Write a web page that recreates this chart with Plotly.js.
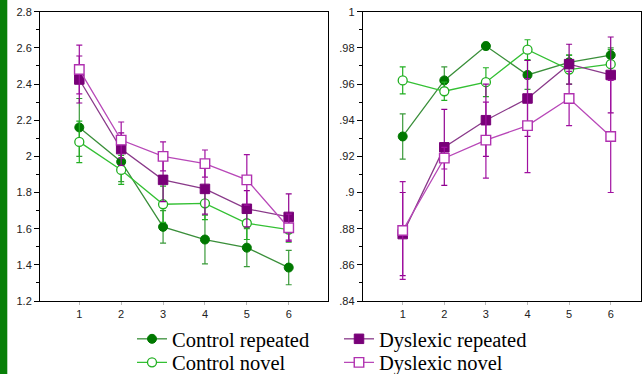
<!DOCTYPE html>
<html>
<head>
<meta charset="utf-8">
<script src="https://cdn.plot.ly/plotly-3.0.1.min.js"></script>
<style>html,body{margin:0;padding:0;background:#fff;}#chart{width:642px;height:374px;}</style>
</head>
<body>
<div id="chart"></div>
<script>
// ---- data ----
const sessions = [1, 2, 3, 4, 5, 6];
const seriesNames = ["Control repeated", "Control novel", "Dyslexic repeated", "Dyslexic novel"];

// left panel
const leftCtrlRep = [2.16, 1.97, 1.61, 1.54, 1.495, 1.385];
const leftCtrlRepErr = [0.16, 0.11, 0.09, 0.135, 0.105, 0.095];
const leftCtrlNov = [2.08, 1.925, 1.735, 1.74, 1.63, 1.595];
const leftCtrlNovErr = [0.115, 0.08, 0.10, 0.09, 0.09, 0.07];
const leftDysRep = [2.425, 2.04, 1.87, 1.82, 1.71, 1.665];
const leftDysRepErr = [0.13, 0.09, 0.12, 0.14, 0.10, 0.128];
const leftDysNov = [2.48, 2.09, 2.0, 1.96, 1.87, 1.605];
const leftDysNovErr = [0.135, 0.10, 0.08, 0.075, 0.14, 0.075];

// right panel
const rightCtrlRep = [0.931, 0.962, 0.981, 0.965, 0.972, 0.976];
const rightCtrlRepErr = [0.0125, 0.0075, 0.002, 0.008, 0.004, 0.004];
const rightCtrlNov = [0.962, 0.956, 0.961, 0.979, 0.968, 0.971];
const rightCtrlNovErr = [0.0075, 0.005, 0.008, 0.0055, 0.008, 0.008];
const rightDysRep = [0.877, 0.925, 0.940, 0.952, 0.971, 0.965];
const rightDysRepErr = [0.023, 0.021, 0.020, 0.021, 0.011, 0.021];
const rightDysNov = [0.879, 0.919, 0.929, 0.937, 0.952, 0.931];
const rightDysNovErr = [0.027, 0.006, 0.021, 0.026, 0.015, 0.031];

const leftTickVals = [1.2, 1.4, 1.6, 1.8, 2.0, 2.2, 2.4, 2.6, 2.8];
const leftTickText = ["1.2", "1.4", "1.6", "1.8", "2", "2.2", "2.4", "2.6", "2.8"];
const rightTickVals = [0.84, 0.86, 0.88, 0.90, 0.92, 0.94, 0.96, 0.98, 1.0];
const rightTickText = [".84", ".86", ".88", ".9", ".92", ".94", ".96", ".98", "1"];

// ---- styles ----
const styles = [
  {line: "#3a8f3a", marker: {symbol: "circle", color: "#007800", size: 9, line: {color: "#007800", width: 1}}, err: "#3a9a3a", legend: "legend"},
  {line: "#33c033", marker: {symbol: "circle", color: "#ffffff", size: 9, line: {color: "#22b022", width: 1.3}}, err: "#22b022", legend: "legend2"},
  {line: "#8a3a8a", marker: {symbol: "square", color: "#780078", size: 9.5, line: {color: "#780078", width: 1}}, err: "#900090", legend: "legend"},
  {line: "#b848b8", marker: {symbol: "square", color: "#ffffff", size: 9.5, line: {color: "#b030b0", width: 1.4}}, err: "#a010a0", legend: "legend2"}
];

function mk(i, y, err, xa, ya, show) {
  const s = styles[i];
  return {
    type: "scatter", mode: "lines+markers",
    x: sessions, y: y, xaxis: xa, yaxis: ya,
    name: seriesNames[i], legend: s.legend, showlegend: show,
    line: {color: s.line, width: 1.3},
    marker: s.marker,
    error_y: {type: "data", array: err, visible: true, color: s.err, thickness: 1.2, width: 3}
  };
}

const data = [
  mk(0, leftCtrlRep, leftCtrlRepErr, "x", "y", true),
  mk(1, leftCtrlNov, leftCtrlNovErr, "x", "y", true),
  mk(2, leftDysRep, leftDysRepErr, "x", "y", true),
  mk(3, leftDysNov, leftDysNovErr, "x", "y", true),
  mk(0, rightCtrlRep, rightCtrlRepErr, "x2", "y2", false),
  mk(1, rightCtrlNov, rightCtrlNovErr, "x2", "y2", false),
  mk(2, rightDysRep, rightDysRepErr, "x2", "y2", false),
  mk(3, rightDysNov, rightDysNovErr, "x2", "y2", false)
];

const W = 642, H = 374;
const tickFont = {family: "Liberation Sans, Arial, sans-serif", size: 11, color: "#222"};
const yDom = [1 - 301 / H, 1 - 11.7 / H];

function xAxis(dom, range, anchor) {
  return {
    domain: dom, range: range, anchor: anchor,
    tickvals: sessions, ticktext: sessions.map(String),
    ticks: "outside", ticklen: 3, tickcolor: "#bbbbbb",
    showline: true, linecolor: "#000", linewidth: 1, mirror: true,
    showgrid: false, zeroline: false, tickfont: tickFont, fixedrange: true
  };
}
function yAxis(range, vals, text, anchor) {
  return {
    domain: yDom, range: range, anchor: anchor,
    tickvals: vals, ticktext: text,
    ticks: "outside", ticklen: 5, tickcolor: "#000",
    minor: {ticks: "outside", ticklen: 3, tickcolor: "#000", dtick: (vals[1] - vals[0]) / 2, showgrid: false},
    showline: true, linecolor: "#000", linewidth: 1, mirror: true,
    showgrid: false, zeroline: false, tickfont: tickFont, fixedrange: true
  };
}

const legendFont = {family: "Liberation Serif", size: 20.5, color: "#000"};
const legendBase = {
  orientation: "h", xanchor: "left", yanchor: "middle",
  entrywidth: 162, entrywidthmode: "pixels",
  bgcolor: "rgba(0,0,0,0)", borderwidth: 0, font: legendFont,
  traceorder: "normal", itemclick: false, itemdoubleclick: false
};

const layout = {
  width: W, height: H,
  margin: {l: 0, r: 0, t: 0, b: 0, autoexpand: false},
  paper_bgcolor: "#ffffff", plot_bgcolor: "#ffffff",
  showlegend: true,
  xaxis: xAxis([40 / W, 328 / W], [0.0616, 6.938], "y"),
  yaxis: yAxis([1.2, 2.8], leftTickVals, leftTickText, "x"),
  xaxis2: xAxis([362.7 / W, 641 / W], [0.0385, 6.728], "y2"),
  yaxis2: yAxis([0.84, 1.0], rightTickVals, rightTickText, "x2"),
  legend: Object.assign({}, legendBase, {x: 132 / W, y: 1 - 339 / H}),
  legend2: Object.assign({}, legendBase, {x: 132 / W, y: 1 - 362.5 / H}),
  shapes: [
    {type: "rect", xref: "paper", yref: "paper", x0: 0, x1: 7.3 / W, y0: 0, y1: 1,
     fillcolor: "#078007", line: {width: 0}, layer: "above"}
  ]
};

Plotly.newPlot("chart", data, layout, {displayModeBar: false, staticPlot: true});
</script>
</body>
</html>
